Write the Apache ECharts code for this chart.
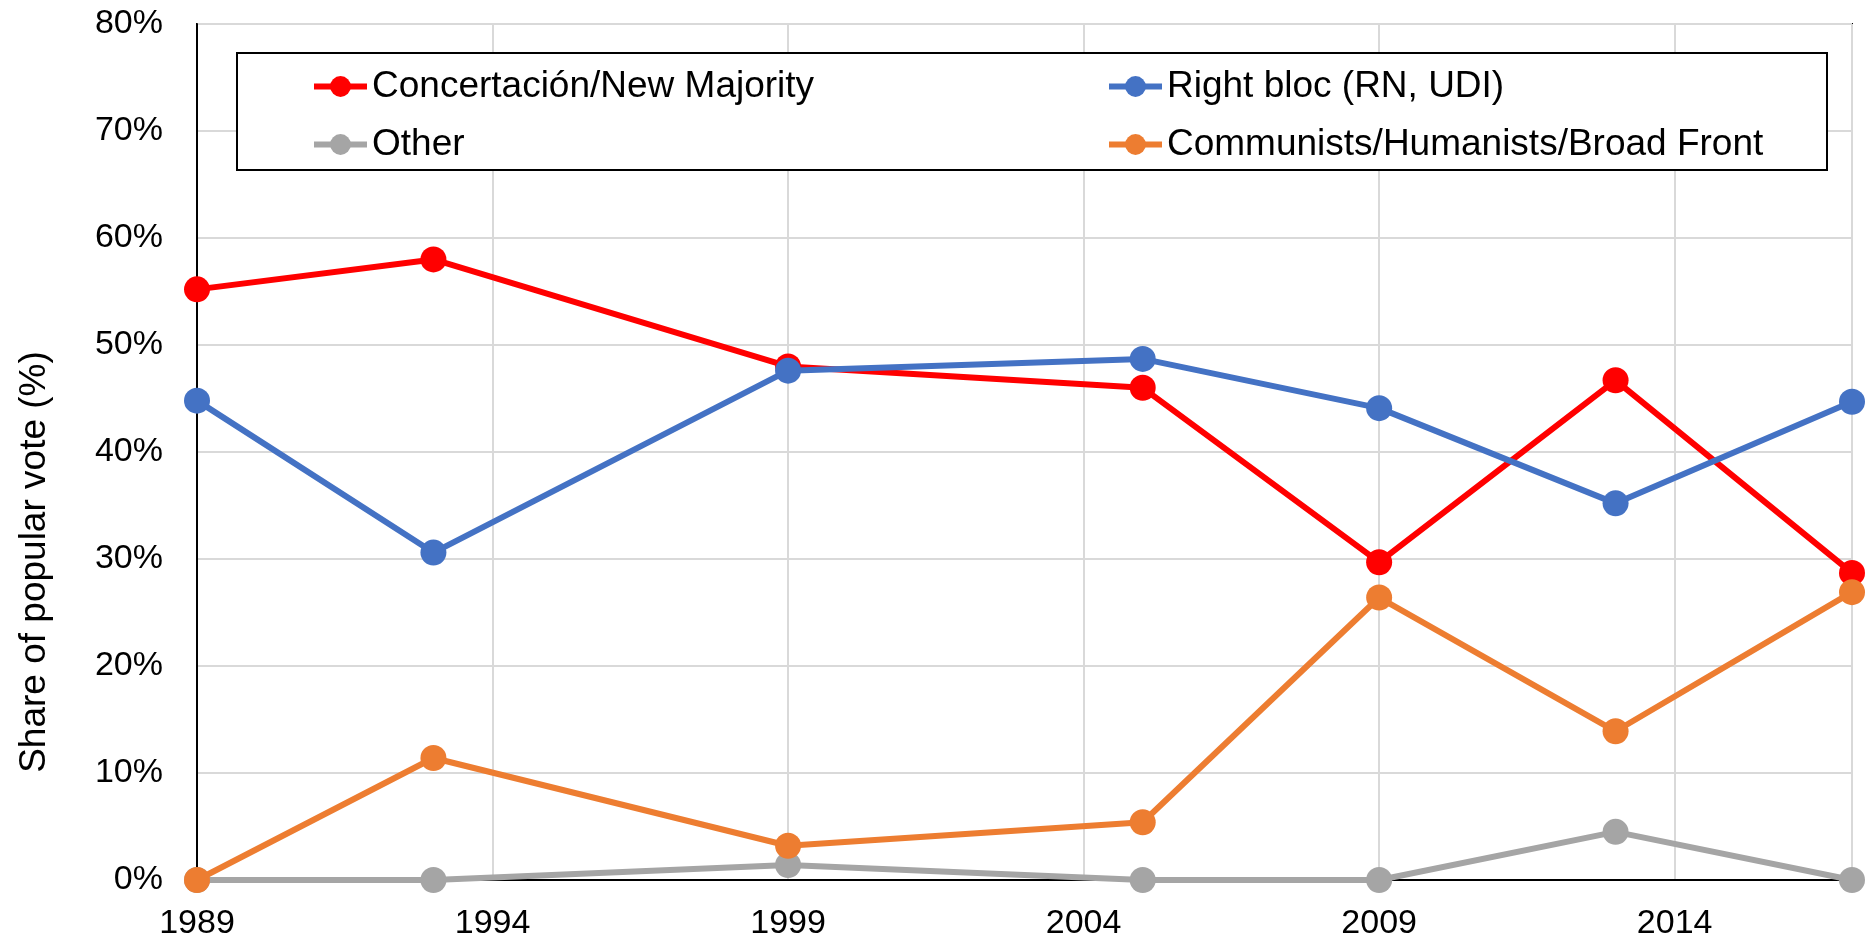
<!DOCTYPE html>
<html>
<head>
<meta charset="utf-8">
<script src="https://cdn.jsdelivr.net/npm/echarts@6/dist/echarts.min.js"></script>
<style>
html,body{margin:0;padding:0;background:#fff;}
#chart{width:1865px;height:942px;}
</style>
</head>
<body>
<div id="chart"></div>
<script>
const years = [1989, 1993, 1999, 2005, 2009, 2013, 2017];
const seriesNames = ['Concertación/New Majority', 'Right bloc (RN, UDI)', 'Other', 'Communists/Humanists/Broad Front'];
const concertacion = [55.2, 58.0, 48.0, 46.0, 29.7, 46.7, 28.7];
const rightBloc = [44.8, 30.6, 47.6, 48.7, 44.1, 35.2, 44.7];
const other = [0, 0, 1.4, 0, 0, 4.5, 0];
const communists = [0, 11.4, 3.2, 5.4, 26.4, 13.9, 26.9];
const yTicks = [0, 10, 20, 30, 40, 50, 60, 70, 80];
const xTicks = [1989, 1994, 1999, 2004, 2009, 2014];
const colors = ['#FF0000', '#4472C4', '#A5A5A5', '#ED7D31'];
const values = [concertacion, rightBloc, other, communists];

const FONT = 'Liberation Sans, Arial, sans-serif';
const chart = echarts.init(document.getElementById('chart'), null, {renderer: 'canvas'});

const series = seriesNames.map((name, i) => ({
  name: name,
  type: 'line',
  data: years.map((y, j) => [y, values[i][j]]),
  symbol: 'circle',
  symbolSize: 26,
  showAllSymbol: true,
  clip: false,
  z: 3 + i,
  itemStyle: {color: colors[i]},
  lineStyle: {color: colors[i], width: 6},
  emphasis: {disabled: true},
  animation: false
}));

const legendCommon = {
  orient: 'vertical',
  itemWidth: 53,
  itemHeight: 26,
  itemGap: 21,
  lineStyle: {width: 6},
  textStyle: {fontFamily: FONT, fontSize: 37, color: '#000'},
  selectedMode: false,
  z: 10
};

chart.setOption({
  animation: false,
  backgroundColor: '#fff',
  grid: {left: 197, right: 13, top: 24, bottom: 62, show: true, borderColor: '#000', borderWidth: 2, containLabel: false},
  xAxis: {
    type: 'value',
    min: years[0],
    max: years[years.length - 1],
    interval: 5,
    axisLine: {show: true, lineStyle: {color: '#000', width: 2}},
    axisTick: {show: false},
    splitLine: {show: true, lineStyle: {color: '#d9d9d9', width: 2}},
    axisLabel: {
      show: true, margin: 27, showMaxLabel: false,
      fontFamily: FONT, fontSize: 34, color: '#000',
      formatter: v => xTicks.indexOf(v) >= 0 ? String(v) : ''
    }
  },
  yAxis: {
    type: 'value',
    min: yTicks[0],
    max: yTicks[yTicks.length - 1],
    interval: 10,
    axisLine: {show: true, lineStyle: {color: '#000', width: 2}},
    axisTick: {show: false},
    splitLine: {show: true, lineStyle: {color: '#d9d9d9', width: 2}},
    axisLabel: {margin: 34, fontFamily: FONT, fontSize: 34, color: '#000', formatter: '{value}%'}
  },
  legend: [
    Object.assign({}, legendCommon, {left: 306, top: 63, data: [seriesNames[0], seriesNames[2]]}),
    Object.assign({}, legendCommon, {left: 1101, top: 63, data: [seriesNames[1], seriesNames[3]]})
  ],
  graphic: [
    {type: 'rect', z: 5, shape: {x: 237, y: 53, width: 1590, height: 117},
     style: {fill: '#fff', stroke: '#000', lineWidth: 2}},
    {type: 'text', z: 5, x: 35, y: 562, rotation: Math.PI / 2,
     style: {text: 'Share of popular vote (%)', fontFamily: FONT, fontSize: 37, fill: '#000', align: 'center', verticalAlign: 'middle'}}
  ],
  series: series
});
</script>
</body>
</html>
